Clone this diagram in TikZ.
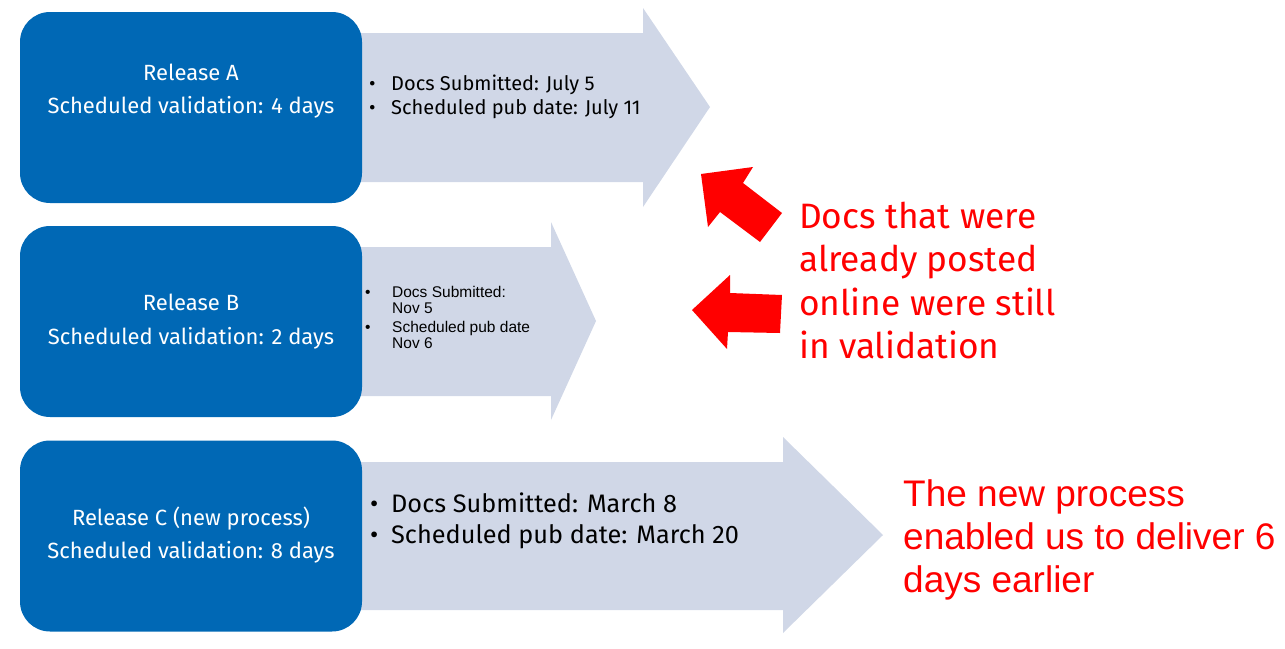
\documentclass[tikz,border=0pt]{standalone}
\usepackage{fontspec}
\setmainfont{Fira Sans}
\newfontfamily\arialfont{Liberation Sans}
\definecolor{relblue}{HTML}{0068B5}
\definecolor{arrowfill}{HTML}{D0D7E7}
\definecolor{callred}{HTML}{FF0000}
\newcommand{\bul}[1]{\llap{\makebox[#1][l]{\textbullet}}}
\begin{document}
\begin{tikzpicture}[x=1pt,y=-1pt,
  relbox/.style={fill=relblue, rounded corners=30pt, minimum width=342pt,
    minimum height=191pt, inner sep=0pt},
  boxtext/.style={anchor=base, text=white, inner sep=0pt, font=\fontsize{22}{26}\selectfont},
  itemA/.style={anchor=base west, inner sep=0pt, font=\fontsize{20}{24}\selectfont},
  itemB/.style={anchor=base west, inner sep=0pt, font=\arialfont\fontsize{15.5}{18}\selectfont},
  itemC/.style={anchor=base west, inner sep=0pt, font=\fontsize{25.3}{30}\selectfont},
  callout/.style={anchor=base west, inner sep=0pt, text=callred, font=\fontsize{35.3}{42}\selectfont},
  calloutB/.style={anchor=base west, inner sep=0pt, text=callred, font=\arialfont\fontsize{37}{43}\selectfont},
  blockarrow/.style={fill=arrowfill},
  redarrow/.style={fill=callred}]
\useasboundingbox (0,0) rectangle (1285,648);

% light block arrows behind the release boxes
\fill[blockarrow] (340,33) -- (643,33) -- (643,8) -- (710,107) -- (643,207) -- (643,182) -- (340,182) -- cycle;
\fill[blockarrow] (340,247) -- (551,247) -- (551,222) -- (596,321) -- (551,420) -- (551,396) -- (340,396) -- cycle;
\fill[blockarrow] (340,462) -- (783,462) -- (783,437) -- (883,535) -- (783,633) -- (783,610) -- (340,610) -- cycle;

% release boxes
\node[relbox] (relA) at (191,107.5) {};
\node[relbox] (relB) at (191,321.5) {};
\node[relbox] (relC) at (191,536) {};

\node[boxtext] (relAt1) at (191,80) {Release A};
\node[boxtext] (relAt2) at (191,113) {Scheduled validation: 4 days};
\node[boxtext] (relBt1) at (191,310) {Release B};
\node[boxtext] (relBt2) at (191,344) {Scheduled validation: 2 days};
\node[boxtext] (relCt1) at (191,525) {Release C (new process)};
\node[boxtext] (relCt2) at (191,558) {Scheduled validation: 8 days};

% bullet lists on the block arrows
\node[itemA] (a1) at (391,90) {\bul{22pt}Docs Submitted: July 5};
\node[itemA] (a2) at (391,114) {\bul{22pt}Scheduled pub date: July 11};

\node[itemB] (b1) at (392,297) {\bul{27pt}Docs Submitted:};
\node[itemB] (b2) at (392,313) {Nov 5};
\node[itemB] (b3) at (392,332) {\bul{27pt}Scheduled pub date};
\node[itemB] (b4) at (392,348) {Nov 6};

\node[itemC] (c1) at (391,512) {\bul{21pt}Docs Submitted: March 8};
\node[itemC] (c2) at (391,543) {\bul{21pt}Scheduled pub date: March 20};

% red callout arrows
\fill[redarrow] (701,174) -- (753,167) -- (743,183) -- (782,213) -- (760,242) -- (720,212) -- (708,227) -- cycle;
\fill[redarrow] (692,310) -- (730,275) -- (730,293) -- (782,295) -- (780,333) -- (728,332) -- (727,349) -- cycle;

% callout texts
\node[callout] (n1) at (799,228) {Docs that were};
\node[callout] (n2) at (799,271) {already posted};
\node[callout] (n3) at (799,315) {online were still};
\node[callout] (n4) at (799,358) {in validation};

\node[calloutB] (m1) at (903,506) {The new process};
\node[calloutB] (m2) at (903,549) {enabled us to deliver 6};
\node[calloutB] (m3) at (903,592) {days earlier};
\end{tikzpicture}
\end{document}
